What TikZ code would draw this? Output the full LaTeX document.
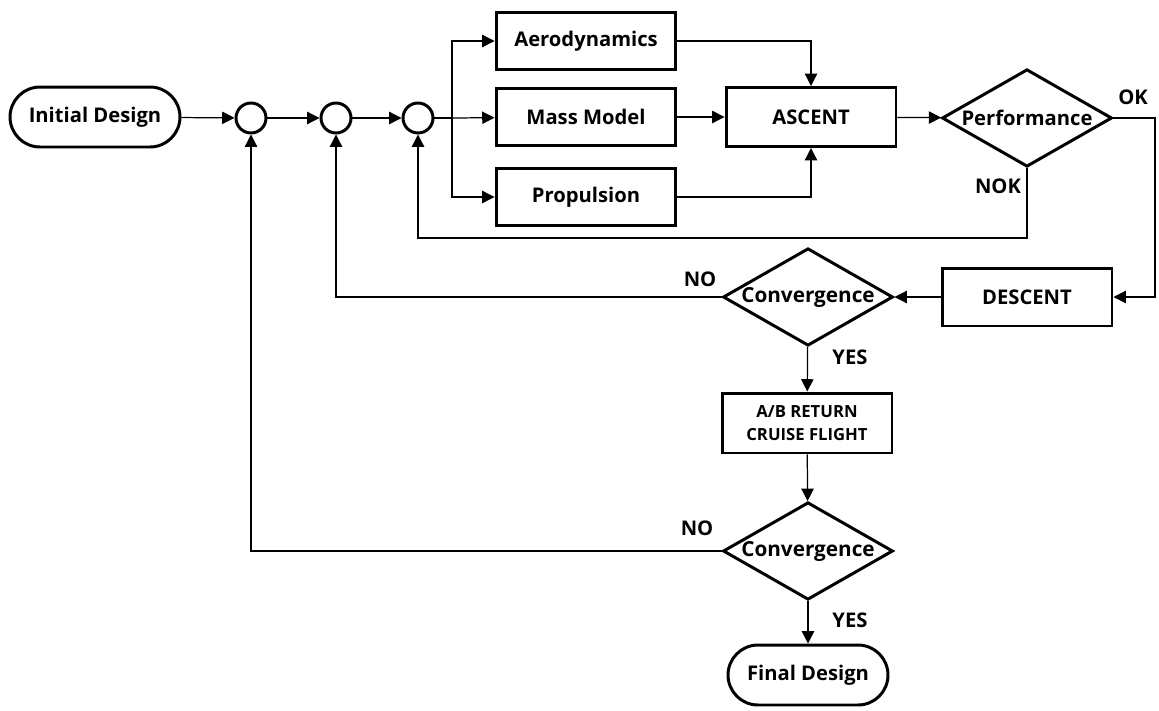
\documentclass[tikz,border=0pt]{standalone}
\usepackage{fontspec}
\setmainfont{Open Sans}
\usepackage{tikz}
\usetikzlibrary{arrows.meta,positioning,calc,shapes.geometric}

\begin{document}
\begin{tikzpicture}[x=0.02cm, y=-0.02cm, >={Triangle[length=7pt,width=7pt]},
  font=\bfseries\fontsize{11.5}{13}\selectfont,
  box/.style={draw, line width=1.7pt, rectangle, inner sep=2pt},
  term/.style={draw, line width=1.7pt, rounded corners=0.6cm, minimum height=1.2cm},
  junc/.style={draw, line width=1.7pt, circle, minimum size=0.6cm, inner sep=0pt},
  test/.style={draw, line width=1.7pt, diamond, inner sep=0pt, aspect=1.7,
    minimum width=3.4cm, minimum height=1.95cm},
  convlbl/.style={label={[font=\bfseries\fontsize{11.8}{14}\selectfont]center:#1}},
  flow/.style={->, line width=0.7pt}]
\useasboundingbox (0,0) rectangle (1159,710);
% top row
\node[term, minimum width=3.4cm] (init) at (95,117) {Initial Design};
\node[junc] (c1) at (251,118) {};
\node[junc] (c2) at (336,118) {};
\node[junc] (c3) at (418,118) {};
\coordinate (split) at (452,118);
\node[box, minimum width=3.6cm, minimum height=1.15cm] (aero) at (586,41) {Aerodynamics};
\node[box, minimum width=3.6cm, minimum height=1.15cm] (mass) at (586,117) {Mass Model};
\node[box, minimum width=3.6cm, minimum height=1.15cm] (prop) at (586,197) {Propulsion};
\node[box, minimum width=3.4cm, minimum height=1.18cm] (ascent) at (811,117) {ASCENT};
\node[test] (perf) at (1027,118) {Performance};
% lower part
\node[box, minimum width=3.4cm, minimum height=1.16cm] (descent) at (1027,297) {DESCENT};
\node[test, convlbl=Convergence] (conv1) at (808,297) {};
\node[box, minimum width=3.4cm, minimum height=1.2cm, align=center,
  font=\bfseries\fontsize{9.5}{13}\selectfont] (ret) at (807,423) {A/B RETURN\\CRUISE FLIGHT};
\node[test, convlbl=Convergence] (conv2) at (808,551) {};
\node[term, minimum width=3.2cm] (final) at (808,675) {Final Design};
\coordinate (okc) at (1155,118);
\coordinate (nok) at (1027,238);
% labels
\node (ok) at (1133,97) {OK};
\node (noklbl) at (998,186) {NOK};
\node (no1) at (700,279) {NO};
\node (yes1) at (850,357) {YES};
\node (no2) at (697,528) {NO};
\node (yes2) at (850,620) {YES};
% connectors
\draw[flow] (init) -- (c1);
\draw[flow] (c1) -- (c2);
\draw[flow] (c2) -- (c3);
\draw[line width=0.7pt] (c3) -- (split);
\draw[flow] (split) |- (aero);
\draw[flow] (split) -- (mass);
\draw[flow] (split) |- (prop);
\draw[flow] (aero) -| (ascent);
\draw[flow] (mass) -- (ascent);
\draw[flow] (prop) -| (ascent);
\draw[flow] (ascent) -- (perf);
\draw[flow] (perf.east) -- (okc) |- (descent);
\draw[flow] (perf.south) -- (nok) -| (c3);
\draw[flow] (descent) -- (conv1);
\draw[flow] (conv1.west) -| (c2);
\draw[flow] (conv1) -- (ret);
\draw[flow] (ret) -- (conv2);
\draw[flow] (conv2.west) -| (c1);
\draw[flow] (conv2) -- (final);
\end{tikzpicture}
\end{document}
